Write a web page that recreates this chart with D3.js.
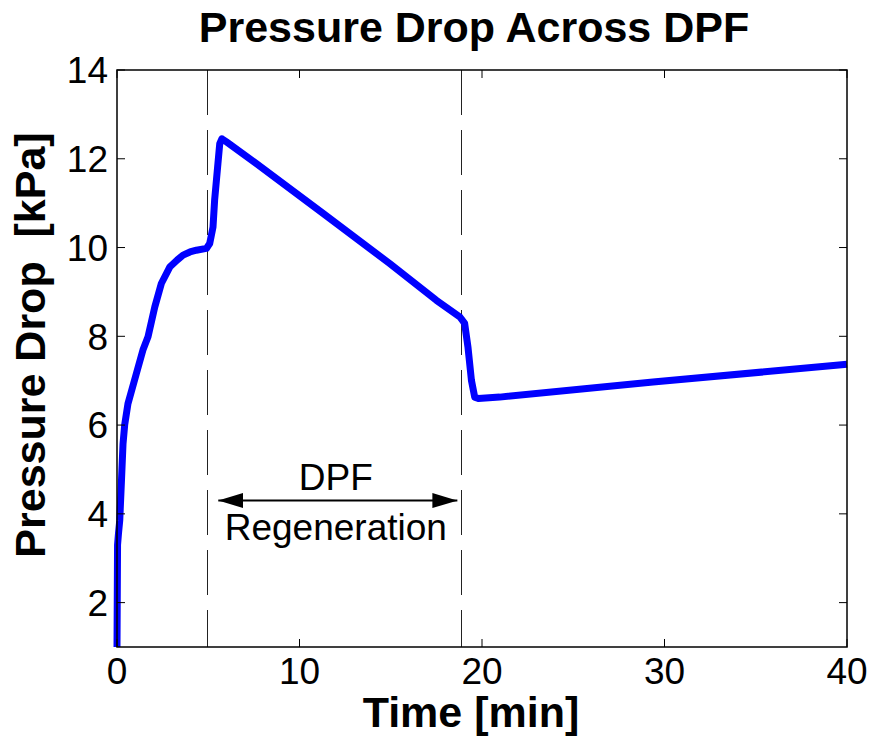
<!DOCTYPE html>
<html>
<head>
<meta charset="utf-8">
<script src="https://cdn.jsdelivr.net/npm/d3@7"></script>
<style>
  html, body { margin: 0; padding: 0; background: #fff; }
  text { font-family: Arial, "Liberation Sans", sans-serif; }
</style>
</head>
<body>
<div id="chart"></div>
<script>
(function () {
  'use strict';

  // ── Data ──
  var timeMin = [0, 0.03, 0.08, 0.15, 0.25, 0.33, 0.42, 0.6, 1.06, 1.42, 1.7, 2.07, 2.43, 2.89,
    3.3, 3.62, 4.0, 4.35, 4.9, 5.08, 5.26, 5.35, 5.53, 5.63, 5.75, 6.0, 7.64, 11.29, 14.94,
    17.5, 18.78, 19.05, 19.23, 19.42, 19.6, 19.8, 20.97, 29.37, 40];
  var pressureKPa = [1.0, 3.3, 3.55, 3.85, 4.8, 5.58, 6.0, 6.48, 7.16, 7.69, 7.99, 8.66, 9.19, 9.56,
    9.72, 9.83, 9.9, 9.94, 9.98, 10.09, 10.46, 11.07, 11.89, 12.34, 12.45, 12.38, 11.89, 10.77, 9.64,
    8.81, 8.44, 8.29, 7.76, 7.01, 6.63, 6.6, 6.63, 6.97, 7.37];
  var xTicks = [0, 10, 20, 30, 40];
  var yTicks = [2, 4, 6, 8, 10, 12, 14];
  var regenMarks = [4.93, 18.87];       // dashed vertical lines
  var arrowSpan = [5.55, 18.65];         // double arrow extent
  var arrowLevel = 4.3;
  var annotation = ['DPF', 'Regeneration'];

  // ── Layout ──
  var WIDTH = 869, HEIGHT = 737;
  var PLOT = { left: 117, right: 847, top: 70, bottom: 647 };
  var TICK_LEN = 8;
  var FONT_TICK = '37px';
  var FONT_LABEL = '43px';

  var svg = d3.select('#chart').append('svg')
    .attr('width', WIDTH)
    .attr('height', HEIGHT);

  var x = d3.scaleLinear().domain([0, 40]).range([PLOT.left, PLOT.right]);
  var y = d3.scaleLinear().domain([1, 14]).range([PLOT.bottom, PLOT.top]);

  // ── Regeneration markers ──
  svg.append('g').selectAll('line')
    .data(regenMarks)
    .join('line')
    .attr('x1', function (d) { return Math.round(x(d)) + 0.5; })
    .attr('x2', function (d) { return Math.round(x(d)) + 0.5; })
    .attr('y1', PLOT.top)
    .attr('y2', PLOT.bottom)
    .attr('stroke', '#222')
    .attr('stroke-width', 1)
    .attr('stroke-dasharray', '45,15');

  // ── Series ──
  var line = d3.line()
    .x(function (d, i) { return x(timeMin[i]); })
    .y(function (d) { return y(d); });

  svg.append('path')
    .datum(pressureKPa)
    .attr('d', line)
    .attr('fill', 'none')
    .attr('stroke', '#0000ff')
    .attr('stroke-width', 7)
    .attr('stroke-linejoin', 'round')
    .attr('stroke-linecap', 'butt');

  // ── Axes box + inward ticks ──
  var axisG = svg.append('g')
    .attr('stroke', '#000')
    .attr('stroke-width', 1.5)
    .attr('fill', 'none');

  axisG.append('rect')
    .attr('x', PLOT.left)
    .attr('y', PLOT.top)
    .attr('width', PLOT.right - PLOT.left)
    .attr('height', PLOT.bottom - PLOT.top);

  xTicks.forEach(function (t) {
    axisG.append('line').attr('x1', x(t)).attr('x2', x(t))
      .attr('y1', PLOT.bottom).attr('y2', PLOT.bottom - TICK_LEN).attr('stroke-width', 1);
    axisG.append('line').attr('x1', x(t)).attr('x2', x(t))
      .attr('y1', PLOT.top).attr('y2', PLOT.top + TICK_LEN).attr('stroke-width', 1);
  });
  yTicks.forEach(function (t) {
    axisG.append('line').attr('x1', PLOT.left).attr('x2', PLOT.left + TICK_LEN)
      .attr('y1', y(t)).attr('y2', y(t)).attr('stroke-width', 1);
    axisG.append('line').attr('x1', PLOT.right).attr('x2', PLOT.right - TICK_LEN)
      .attr('y1', y(t)).attr('y2', y(t)).attr('stroke-width', 1);
  });

  // ── Tick labels ──
  svg.append('g').selectAll('text')
    .data(xTicks)
    .join('text')
    .attr('x', function (d) { return x(d); })
    .attr('y', 684)
    .attr('text-anchor', 'middle')
    .attr('font-size', FONT_TICK)
    .text(function (d) { return d; });

  svg.append('g').selectAll('text')
    .data(yTicks)
    .join('text')
    .attr('x', 108)
    .attr('y', function (d) { return y(d); })
    .attr('dy', '0.36em')
    .attr('text-anchor', 'end')
    .attr('font-size', FONT_TICK)
    .text(function (d) { return d; });

  // ── Titles ──
  svg.append('text')
    .attr('x', 474)
    .attr('y', 42)
    .attr('text-anchor', 'middle')
    .attr('font-size', FONT_LABEL)
    .attr('font-weight', 'bold')
    .text('Pressure Drop Across DPF');

  svg.append('text')
    .attr('x', 471)
    .attr('y', 727)
    .attr('text-anchor', 'middle')
    .attr('font-size', FONT_LABEL)
    .attr('font-weight', 'bold')
    .text('Time [min]');

  svg.append('text')
    .attr('transform', 'translate(45,345) rotate(-90)')
    .attr('text-anchor', 'middle')
    .attr('font-size', FONT_LABEL)
    .attr('font-weight', 'bold')
    .style('white-space', 'pre')
    .text('Pressure Drop  [kPa]');

  // ── Annotation: double arrow ──
  var defs = svg.append('defs');
  defs.append('marker')
    .attr('id', 'arrowhead')
    .attr('viewBox', '0 0 25 15')
    .attr('refX', 25)
    .attr('refY', 7.5)
    .attr('markerWidth', 25)
    .attr('markerHeight', 15)
    .attr('markerUnits', 'userSpaceOnUse')
    .attr('orient', 'auto-start-reverse')
    .append('path')
    .attr('d', 'M0,0 L25,7.5 L0,15 Z')
    .attr('fill', '#000');

  svg.append('line')
    .attr('x1', x(arrowSpan[0]))
    .attr('x2', x(arrowSpan[1]))
    .attr('y1', y(arrowLevel))
    .attr('y2', y(arrowLevel))
    .attr('stroke', '#000')
    .attr('stroke-width', 2)
    .attr('marker-start', 'url(#arrowhead)')
    .attr('marker-end', 'url(#arrowhead)');

  var midX = x((arrowSpan[0] + arrowSpan[1]) / 2) - 2;
  svg.append('text')
    .attr('x', midX)
    .attr('y', 490)
    .attr('text-anchor', 'middle')
    .attr('font-size', FONT_TICK)
    .text(annotation[0]);
  svg.append('text')
    .attr('x', midX)
    .attr('y', 540)
    .attr('text-anchor', 'middle')
    .attr('font-size', FONT_TICK)
    .text(annotation[1]);
})();
</script>
</body>
</html>
